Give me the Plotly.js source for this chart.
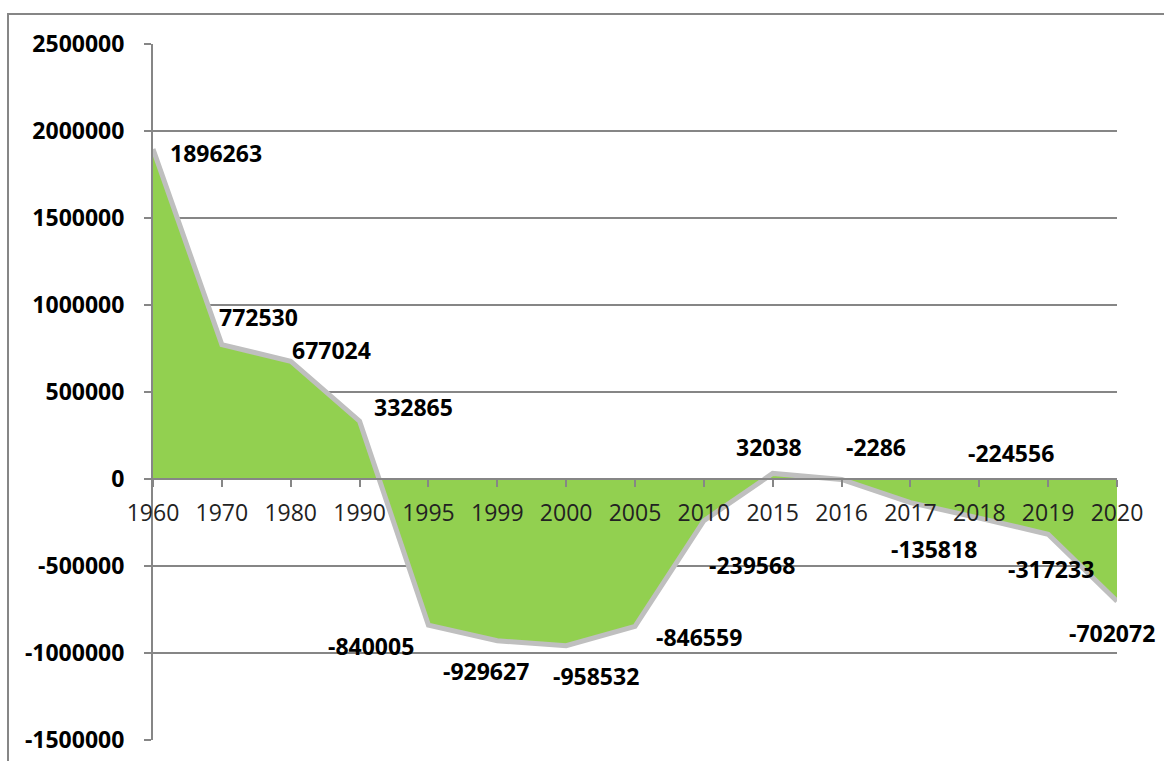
<!DOCTYPE html>
<html>
<head>
<meta charset="utf-8">
<script src="https://cdn.plot.ly/plotly-3.0.1.min.js"></script>
<style>html,body{margin:0;padding:0;background:#fff;}#chart{width:1164px;height:761px;}</style>
</head>
<body>
<div id="chart"></div>
<script>
// Data
const years = ['1960','1970','1980','1990','1995','1999','2000','2005','2010','2015','2016','2017','2018','2019','2020'];
const values = [1896263, 772530, 677024, 332865, -840005, -929627, -958532, -846559, -239568, 32038, -2286, -135818, -224556, -317233, -702072];
const yTickVals = [-1500000, -1000000, -500000, 0, 500000, 1000000, 1500000, 2000000, 2500000];
const yTickText = ['-1500000', '-1000000', '-500000', '0', '500000', '1000000', '1500000', '2000000', '2500000'];

// Label placement offsets (pixels) relative to each point
const labelDx = [63, 37, 41, 54, -57, -11, 30, 64, 48, -4, 34, 24, 32, 3, -5];
const labelDy = [-4, 28, 11, 14, -21, -30, -30, -11, -44, 26, 32, -46, 65, -35, -32];

// category positions (evenly spaced, one per year label)
const xPos = years.map((_, i) => i);

const gridCol = '#868686';
const fontFam = '"Open Sans", "Noto Sans", sans-serif';

const trace = {
  type: 'scatter',
  mode: 'lines',
  x: xPos,
  y: values,
  text: years,
  fill: 'tozeroy',
  fillcolor: '#92D050',
  line: {color: '#BFBFBF', width: 5},
  hoverinfo: 'text+y'
};

const annotations = xPos.map((xp, i) => ({
  x: xp, y: values[i], xref: 'x', yref: 'y',
  text: String(values[i]),
  showarrow: false,
  xanchor: 'center', yanchor: 'middle',
  xshift: labelDx[i], yshift: labelDy[i],
  font: {family: fontFam, size: 23, color: '#000', weight: 'bold'}
}));

const layout = {
  width: 1164, height: 761,
  margin: {l: 153, r: 47, t: 44, b: 21},
  paper_bgcolor: '#fff', plot_bgcolor: '#fff',
  showlegend: false,
  xaxis: {
    type: 'linear',
    range: [0, years.length - 1],
    tickvals: xPos, ticktext: years,
    anchor: 'free', position: 0.375,
    showline: true, linecolor: gridCol, linewidth: 2,
    ticks: 'outside', ticklen: 7, tickwidth: 2, tickcolor: gridCol,
    showgrid: false, zeroline: false,
    ticklabelstandoff: 6,
    tickfont: {family: fontFam, size: 23, color: '#222'},
    fixedrange: true
  },
  yaxis: {
    range: [-1500000, 2500000],
    tickvals: yTickVals, ticktext: yTickText,
    showline: true, linecolor: gridCol, linewidth: 2,
    ticks: 'outside', ticklen: 7, tickwidth: 2, tickcolor: gridCol,
    showgrid: true, gridcolor: gridCol, gridwidth: 2,
    zeroline: false,
    ticklabelstandoff: 15,
    tickfont: {family: fontFam, size: 23, color: '#000', weight: 'bold'},
    fixedrange: true
  },
  annotations: annotations,
  shapes: [{
    type: 'rect', xref: 'paper', yref: 'paper',
    x0: -0.1504, x1: 1.2, y0: -0.1, y1: 1.0431,
    line: {color: gridCol, width: 2}, fillcolor: 'rgba(0,0,0,0)', layer: 'below'
  }]
};

Plotly.newPlot('chart', [trace], layout, {displayModeBar: false, staticPlot: true});
</script>
</body>
</html>
